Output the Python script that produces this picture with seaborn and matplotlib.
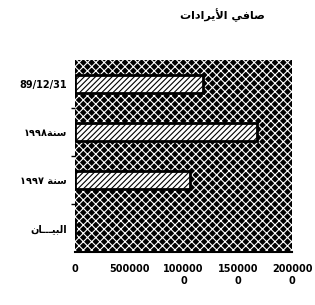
import matplotlib
matplotlib.use("Agg")
import matplotlib.pyplot as plt
import seaborn as sns
import pandas as pd
from matplotlib.patches import Rectangle

# Arabic text written in presentation forms, in visual (left-to-right) order
def visual(s):
    return s[::-1]

TITLE = visual("\uFEBB\uFE8E\uFED3\uFEF2 \uFE8D\uFEF7\uFEF3\uFEAE\uFE8D\uFEA9\uFE8D\uFE95")
categories = [
    "89/12/31",
    "\u0661\u0669\u0669\u0668" + visual("\uFEB3\uFEE8\uFE94"),
    "\u0661\u0669\u0669\u0667 " + visual("\uFEB3\uFEE8\uFE94"),
    visual("\uFE8D\uFEDF\uFE92\uFEF4\u0640\u0640\u0640\uFE8E\uFEE5"),
]
values = [1180000, 1680000, 1060000, 0]
xticks = [0, 500000, 1000000, 1500000, 2000000]
xtick_labels = ["0", "500000", "100000\n0", "150000\n0", "200000\n0"]

sns.set_theme(style="white")
plt.rcParams['font.family'] = ['DejaVu Sans']
plt.rcParams['hatch.linewidth'] = 0.8
plt.rcParams['text.color'] = 'black'
plt.rcParams['xtick.color'] = 'black'
plt.rcParams['ytick.color'] = 'black'

df = pd.DataFrame({"cat": categories, "val": values})

fig = plt.figure(figsize=(3.15, 3.05), dpi=100)
ax = fig.add_axes([0.238, 0.174, 0.689, 0.629])

# dark crosshatched plot area
bg = Rectangle((0, 0), 1, 1, transform=ax.transAxes, facecolor="black",
               edgecolor="white", hatch="xxxx", linewidth=0, zorder=0)
ax.add_patch(bg)

sns.barplot(data=df, x="val", y="cat", order=categories, color="white",
            edgecolor="black", linewidth=2, width=0.36, ax=ax, zorder=2)
for p in ax.patches[1:]:
    p.set_hatch("//////")

ax.set_xlim(0, 2000000)
ax.set_ylim(3.5, -0.5)
ax.set_xticks(xticks)
ax.set_xticklabels(xtick_labels, fontsize=7, fontweight="bold")
ax.set_yticks(range(len(categories)))
ax.set_yticklabels(categories, fontsize=7, fontweight="bold")
ax.tick_params(axis="y", length=0, pad=6)
ax.tick_params(axis="x", length=3, width=1, direction="out", pad=6)
ax.set_yticks([0.5, 1.5, 2.5], minor=True)
ax.tick_params(axis="y", which="minor", length=3, width=1, left=True)
ax.set_xlabel("")
ax.set_ylabel("")
for name, sp in ax.spines.items():
    sp.set_visible(name == "bottom")
ax.spines["bottom"].set_linewidth(1.5)
ax.spines["bottom"].set_color("black")

fig.text(0.705, 0.95, TITLE, ha="center", va="center", fontsize=8, fontweight="bold")

fig.savefig("out.png", dpi=100)
